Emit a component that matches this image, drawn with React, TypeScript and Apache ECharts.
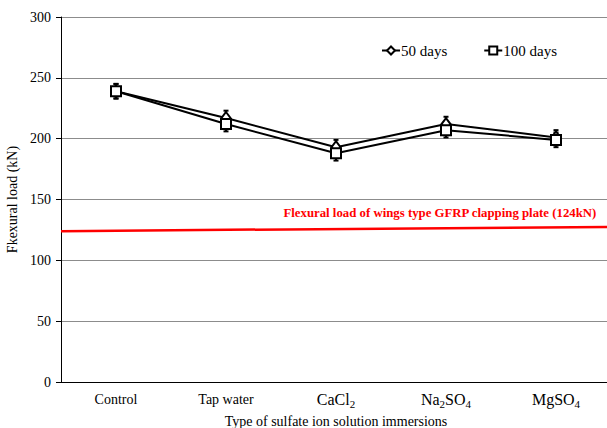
import React, { useEffect, useRef } from "react";
import * as echarts from "echarts";

const categories = ["Control", "Tap water", "CaCl2", "Na2SO4", "MgSO4"];
const days50 = [239, 217, 193, 212, 201];
const days100 = [239, 212, 188, 207, 199];
const err50 = [6, 6, 6, 6, 6];
const err100 = [6, 6, 6, 6, 6];
const limitLine = [
  [0, 124],
  [1, 127.5],
];
const limitText = "Flexural load of wings type GFRP clapping plate (124kN)";

const FONT = "'Liberation Serif', 'Times New Roman', serif";

const labelFmt = (v: string) => {
  if (v === "CaCl2") return "{a|CaCl}{s|2}";
  if (v === "Na2SO4") return "{a|Na}{s|2}{a|SO}{s|4}";
  if (v === "MgSO4") return "{a|MgSO}{s|4}";
  return "{n|" + v + "}";
};

const errSeries = (vals: number[], errs: number[], name: string) => ({
  type: "custom",
  name,
  xAxisIndex: 0,
  yAxisIndex: 0,
  z: 1,
  silent: true,
  data: vals.map((v, i) => [i, v - errs[i], v + errs[i]]),
  renderItem: (params: any, api: any) => {
    const x = api.value(0);
    const lo = api.coord([x, api.value(1)]);
    const hi = api.coord([x, api.value(2)]);
    const hw = 2.5;
    const st = { stroke: "#000", lineWidth: 2 };
    return {
      type: "group",
      children: [
        { type: "line", shape: { x1: lo[0], y1: lo[1], x2: hi[0], y2: hi[1] }, style: st },
        { type: "line", shape: { x1: lo[0] - hw, y1: lo[1], x2: lo[0] + hw, y2: lo[1] }, style: st },
        { type: "line", shape: { x1: hi[0] - hw, y1: hi[1], x2: hi[0] + hw, y2: hi[1] }, style: st },
      ],
    };
  },
});

export default function App() {
  const ref = useRef<HTMLDivElement>(null);
  useEffect(() => {
    const chart = echarts.init(ref.current!, null, { renderer: "svg" });
    chart.setOption({
      animation: false,
      textStyle: { fontFamily: FONT },
      grid: {
        left: 61,
        top: 17,
        width: 550,
        height: 365,
        containLabel: false,
        outerBoundsMode: "none",
      },
      legend: {
        top: 38,
        left: 376,
        itemGap: 36,
        itemWidth: 18,
        itemHeight: 10,
        textStyle: { fontFamily: FONT, fontSize: 15, color: "#000", padding: [0, 0, 0, -4] },
        data: [{ name: "50 days" }, { name: "100 days" }],
      },
      xAxis: [
        {
          type: "category",
          data: categories,
          boundaryGap: true,
          axisLine: { lineStyle: { color: "#000", width: 1 } },
          axisTick: { show: false },
          axisLabel: {
            interval: 0,
            margin: 7,
            formatter: labelFmt,
            rich: {
              n: { fontFamily: FONT, fontSize: 14, color: "#000", lineHeight: 20 },
              a: { fontFamily: FONT, fontSize: 16, color: "#000", lineHeight: 20 },
              s: { fontFamily: FONT, fontSize: 11, color: "#000", lineHeight: 20, padding: [9, 0, 0, 0] },
            },
          },
          name: "Type of sulfate ion solution immersions",
          nameLocation: "middle",
          nameGap: 32,
          nameTextStyle: { fontFamily: FONT, fontSize: 14, color: "#000" },
        },
        { type: "value", min: 0, max: 1, show: false },
      ],
      yAxis: {
        type: "value",
        min: 0,
        max: 300,
        interval: 50,
        axisLine: { show: true, lineStyle: { color: "#000", width: 1 } },
        axisTick: { show: true, length: 5, lineStyle: { color: "#000" } },
        axisLabel: { fontFamily: FONT, fontSize: 14, color: "#000", margin: 10 },
        splitLine: { lineStyle: { color: "#8c8c8c", width: 1 } },
        name: "Fkexural load (kN)",
        nameLocation: "middle",
        nameGap: 35,
        nameTextStyle: { fontFamily: FONT, fontSize: 14, color: "#000" },
      },
      graphic: [
        {
          type: "text",
          right: 10,
          top: 206,
          style: {
            text: limitText,
            fill: "#ff0000",
            font: "bold 12.8px " + FONT,
          },
        },
      ],
      series: [
        {
          type: "line",
          name: "limit",
          xAxisIndex: 1,
          yAxisIndex: 0,
          data: limitLine,
          symbol: "none",
          lineStyle: { color: "#ff0000", width: 2.5 },
          z: 1,
          silent: true,
        },
        errSeries(days50, err50, "e50"),
        errSeries(days100, err100, "e100"),
        {
          type: "line",
          name: "50 days",
          data: days50,
          symbol: "diamond",
          symbolSize: [9, 12],
          itemStyle: { color: "#fff", borderColor: "#000", borderWidth: 2 },
          lineStyle: { color: "#000", width: 2 },
          z: 3,
        },
        {
          type: "line",
          name: "100 days",
          data: days100,
          symbol: "rect",
          symbolSize: 10,
          itemStyle: { color: "#fff", borderColor: "#000", borderWidth: 2 },
          lineStyle: { color: "#000", width: 2 },
          z: 4,
        },
      ],
    });
    return () => chart.dispose();
  }, []);
  return (
    <div
      ref={ref}
      style={{ position: "absolute", left: 0, top: 0, width: 607, height: 428, overflow: "hidden" }}
    />
  );
}
